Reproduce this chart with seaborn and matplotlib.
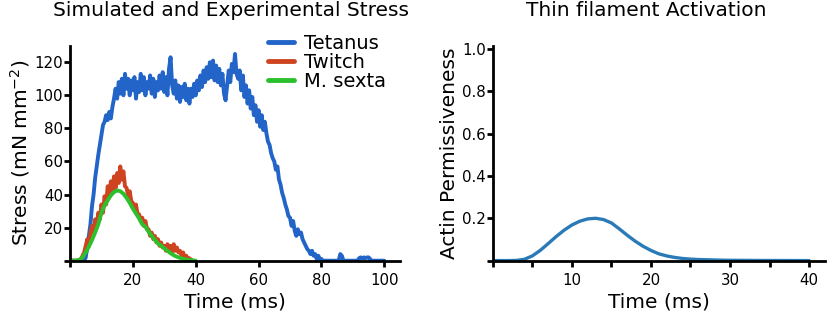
import numpy as np
import pandas as pd
import matplotlib
matplotlib.use("Agg")
import matplotlib.pyplot as plt
import seaborn as sns

# ---------------- data ----------------
# Tetanus stress, sampled every 0.5 ms from 0 ms
tetanus = [
    0, 0, 0, 0, 0, 0, 0, 0, 0, 0,
    2, 8, 15, 22, 33, 40, 50, 57, 64, 70,
    76, 82, 84, 88, 85, 90, 86, 93, 98, 104,
    98, 108, 101, 110, 100, 113, 104, 110, 100, 109,
    103, 111, 98, 108, 102, 113, 103, 111, 100, 108,
    104, 112, 101, 110, 99, 108, 103, 112, 104, 114,
    102, 111, 100, 116, 123, 106, 101, 109, 98, 106,
    96, 105, 99, 107, 97, 104, 95, 104, 99, 107,
    100, 109, 103, 112, 105, 115, 108, 117, 110, 120,
    111, 121, 109, 118, 108, 116, 106, 113, 101, 97,
    106, 115, 108, 119, 114, 125, 113, 110, 115, 103,
    112, 99, 106, 95, 103, 92, 99, 88, 94, 84,
    91, 81, 88, 79, 84, 77, 72, 70, 65, 62,
    60, 55, 57, 49, 46, 41, 38, 34, 31, 27,
    26, 21, 24, 18, 15, 19, 16, 17, 13, 11,
    9, 7, 6, 4, 6, 3, 4, 1, 3, 1,
    1, 0, 0, 0, 0, 0, 0, 0, 0, 0,
    0, 0, 4, 3, 0, 0, 0, 0, 0, 0,
    0, 0, 0, 0, 1.5, 2, 1.5, 2, 1.5, 2,
    2, 1, 0, 0, 0, 0, 0, 0, 0, 0,
    0,
]
tetanus_step = 0.5

# Twitch stress, sampled every 0.5 ms from 0 ms
twitch = [
    0, 0, 0, 0, 0, 0, 0.5, 1, 3, 5,
    9, 13, 9, 17, 21, 17, 25, 21, 29, 25,
    34, 29, 39, 34, 45, 39, 48, 42, 51, 44,
    53, 47, 57, 49, 54, 45, 44, 39, 42, 36,
    35, 31, 34, 28, 28, 24, 26, 21, 24, 19,
    19, 15, 17, 13, 15, 11, 13, 9, 11, 8,
    9, 6, 10, 7, 9, 5, 10, 6, 8, 5,
    6, 3, 5, 2, 3, 1, 1.5, 0.5, 0,
]
twitch_step = 0.5

# M. sexta experimental stress, every 1 ms from 0 ms
msexta = [
    0, 0, 0, 0.5, 2, 5, 8.5, 12.5, 17, 22,
    29, 33.5, 36.5, 39.5, 41.5, 42.5, 42, 40.5, 38, 35,
    31.5, 28.5, 25.5, 22, 20.5, 17.5, 15, 12.5, 10.5, 9,
    7.5, 6, 4.5, 3.3, 2.4, 1.7, 1.1, 0.7, 0.4, 0.2,
    0,
]
msexta_step = 1.0

# Actin permissiveness, every 1 ms from 0 ms
actin = [
    0, 0, 0, 0.001, 0.006, 0.022, 0.048, 0.08, 0.113, 0.143,
    0.168, 0.186, 0.197, 0.2, 0.194, 0.178, 0.15, 0.12, 0.092, 0.068,
    0.048, 0.032, 0.022, 0.015, 0.01, 0.007, 0.005, 0.004, 0.003, 0.002,
    0.0015, 0.0012, 0.001, 0.0008, 0.0006, 0.0005, 0.0004, 0.0003, 0.0002, 0.0001,
    0,
]
actin_step = 1.0

left_xticks = [0, 20, 40, 60, 80, 100]
left_yticks = [0, 20, 40, 60, 80, 100, 120]
right_xticks = [0, 5, 10, 15, 20, 25, 30, 35, 40]
right_yticks = [0, 0.2, 0.4, 0.6, 0.8, 1.0]

# ---------------- style ----------------
sns.set_theme(style="ticks")
plt.rcParams["font.family"] = ["DejaVu Sans"]
plt.rcParams["text.color"] = "black"
plt.rcParams["axes.labelcolor"] = "black"
plt.rcParams["axes.linewidth"] = 2.0
plt.rcParams["xtick.major.width"] = 2.0
plt.rcParams["ytick.major.width"] = 2.0
plt.rcParams["xtick.major.size"] = 4
plt.rcParams["ytick.major.size"] = 4
plt.rcParams["xtick.major.pad"] = 5
plt.rcParams["ytick.major.pad"] = 1.0

FS = 14.5
TICK_FS = 10.8

c_tet = "#2264c8"
c_twi = "#cf4420"
c_sex = "#2cc02c"
c_act = "#2a7ab8"

def series(vals, step, name):
    v = np.asarray(vals, dtype=float)
    return pd.DataFrame({"t": np.arange(len(v)) * step, "v": v, "s": name})

df_left = pd.concat([
    series(tetanus, tetanus_step, "Tetanus"),
    series(twitch, twitch_step, "Twitch"),
    series(msexta, msexta_step, "M. sexta"),
])
df_right = series(actin, actin_step, "Actin")

fig = plt.figure(figsize=(8.3, 3.26), dpi=100)
W, H = 830, 326
ax1 = fig.add_axes([70 / W, 1 - 260.7 / H, 330 / W, 215 / H])
ax2 = fig.add_axes([492.7 / W, 1 - 260.6 / H, 332.3 / W, 215 / H])

sns.lineplot(data=df_left, x="t", y="v", hue="s", estimator=None, sort=False,
             palette={"Tetanus": c_tet, "Twitch": c_twi, "M. sexta": c_sex},
             linewidth=2.8, ax=ax1, legend=True)
sns.lineplot(data=df_right, x="t", y="v", estimator=None, sort=False,
             color=c_act, linewidth=2.4, ax=ax2, legend=False)

for ax in (ax1, ax2):
    sns.despine(ax=ax)
    ax.tick_params(colors="black", labelsize=TICK_FS)
    for s in ("left", "bottom"):
        ax.spines[s].set_color("black")

# left axes
ax1.set_xlim(0, 105)
ax1.set_ylim(0, 130)
ax1.set_xticks(left_xticks)
ax1.set_xticklabels([""] + [str(v) for v in left_xticks[1:]])
ax1.set_yticks(left_yticks)
ax1.set_yticklabels([""] + [str(v) for v in left_yticks[1:]])
ax1.set_xlabel("Time (ms)", fontsize=FS, labelpad=3)
ax1.set_ylabel("Stress (mN mm$^{-2}$)", fontsize=FS, labelpad=2)
leg = ax1.legend(loc="upper left", bbox_to_anchor=(268 / W, 1 - 34 / H),
                 bbox_transform=fig.transFigure, frameon=False, fontsize=14,
                 handlelength=1.35, handletextpad=0.5, labelspacing=0.0,
                 borderpad=0, borderaxespad=0)
for line in leg.get_lines():
    line.set_linewidth(3.5)

# right axes
ax2.set_xlim(0, 42)
ax2.set_ylim(0, 1.016)
ax2.set_xticks(right_xticks)
ax2.set_xticklabels([str(v) if v % 10 == 0 and v > 0 else "" for v in right_xticks])
ax2.set_yticks(right_yticks)
ax2.set_yticklabels([""] + ["%.1f" % v for v in right_yticks[1:]])
ax2.set_xlabel("Time (ms)", fontsize=FS, labelpad=3)
ax2.set_ylabel("Actin Permissiveness", fontsize=FS, labelpad=2)

fig.text(231 / W, 1 - 10 / H, "Simulated and Experimental Stress",
         ha="center", va="center", fontsize=FS)
fig.text(646.7 / W, 1 - 10 / H, "Thin filament Activation",
         ha="center", va="center", fontsize=FS)

fig.savefig("out.png", dpi=100)
